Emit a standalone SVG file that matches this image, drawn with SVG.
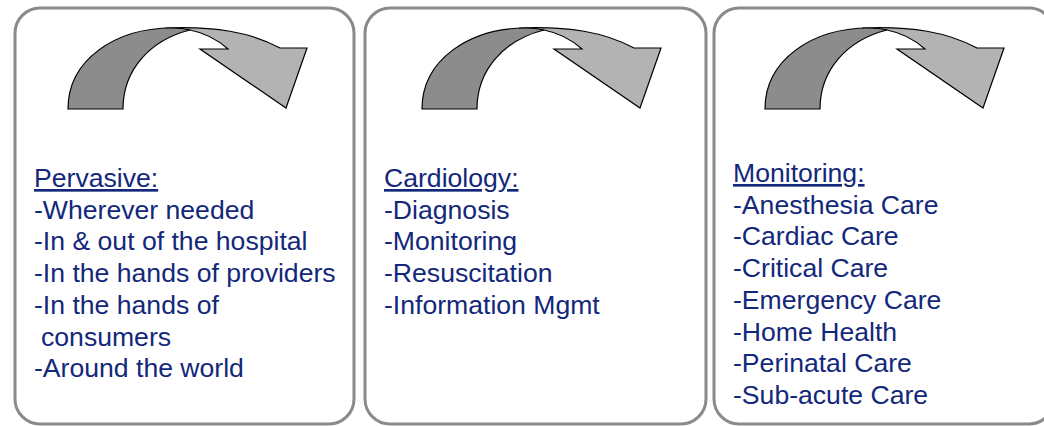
<svg xmlns="http://www.w3.org/2000/svg" xmlns:xlink="http://www.w3.org/1999/xlink" width="1044" height="426" viewBox="0 0 1044 426">
<style>
.box{fill:#ffffff;stroke:#8a8a8a;stroke-width:3}
.dark{fill:#8c8c8c;stroke:#000;stroke-width:1.2;stroke-linejoin:miter}
.light{fill:#b3b3b3;stroke:#000;stroke-width:1.2;stroke-linejoin:miter}
text{font-family:"Liberation Sans",Arial,sans-serif;font-size:26.6px;fill:#13287a}
.hd{text-decoration:underline}
</style>
<defs>
<g id="arrow">
<path class="light" d="M165,28 C215,26 250,32 280,48 L307,48 L286,108 L200,49 L228,49 C218,40 205,33 190,30 Z"/>
<path class="dark" d="M68,109 C68,60 115,28 172,28 C178,28 184,28.5 190,30 C150,40 123,70 123,109 Z"/>
</g>
</defs>
<rect width="1044" height="426" fill="#ffffff"/>
<g id="connectors"></g>
<g id="node-pervasive">
<rect class="box" x="15" y="8" width="339" height="416" rx="25" ry="25"/>
<use xlink:href="#arrow"/>
<text x="34" y="187" class="hd">Pervasive:</text>
<text x="34" y="218.7">-Wherever needed</text>
<text x="34" y="250.4">-In &amp; out of the hospital</text>
<text x="34" y="282.1">-In the hands of providers</text>
<text x="34" y="313.8">-In the hands of</text>
<text x="41" y="345.5">consumers</text>
<text x="34" y="377.2">-Around the world</text>
</g>
<g id="node-cardiology">
<rect class="box" x="365" y="8" width="341" height="416" rx="25" ry="25"/>
<use xlink:href="#arrow" transform="translate(354,0)"/>
<text x="384" y="187" class="hd">Cardiology:</text>
<text x="384" y="218.7">-Diagnosis</text>
<text x="384" y="250.4">-Monitoring</text>
<text x="384" y="282.1">-Resuscitation</text>
<text x="384" y="313.8">-Information Mgmt</text>
</g>
<g id="node-monitoring">
<rect class="box" x="714" y="8" width="340" height="416" rx="25" ry="25"/>
<use xlink:href="#arrow" transform="translate(697,0)"/>
<text x="733" y="182" class="hd">Monitoring:</text>
<text x="733" y="213.7">-Anesthesia Care</text>
<text x="733" y="245.4">-Cardiac Care</text>
<text x="733" y="277.1">-Critical Care</text>
<text x="733" y="308.8">-Emergency Care</text>
<text x="733" y="340.5">-Home Health</text>
<text x="733" y="372.2">-Perinatal Care</text>
<text x="733" y="403.9">-Sub-acute Care</text>
</g>
</svg>
